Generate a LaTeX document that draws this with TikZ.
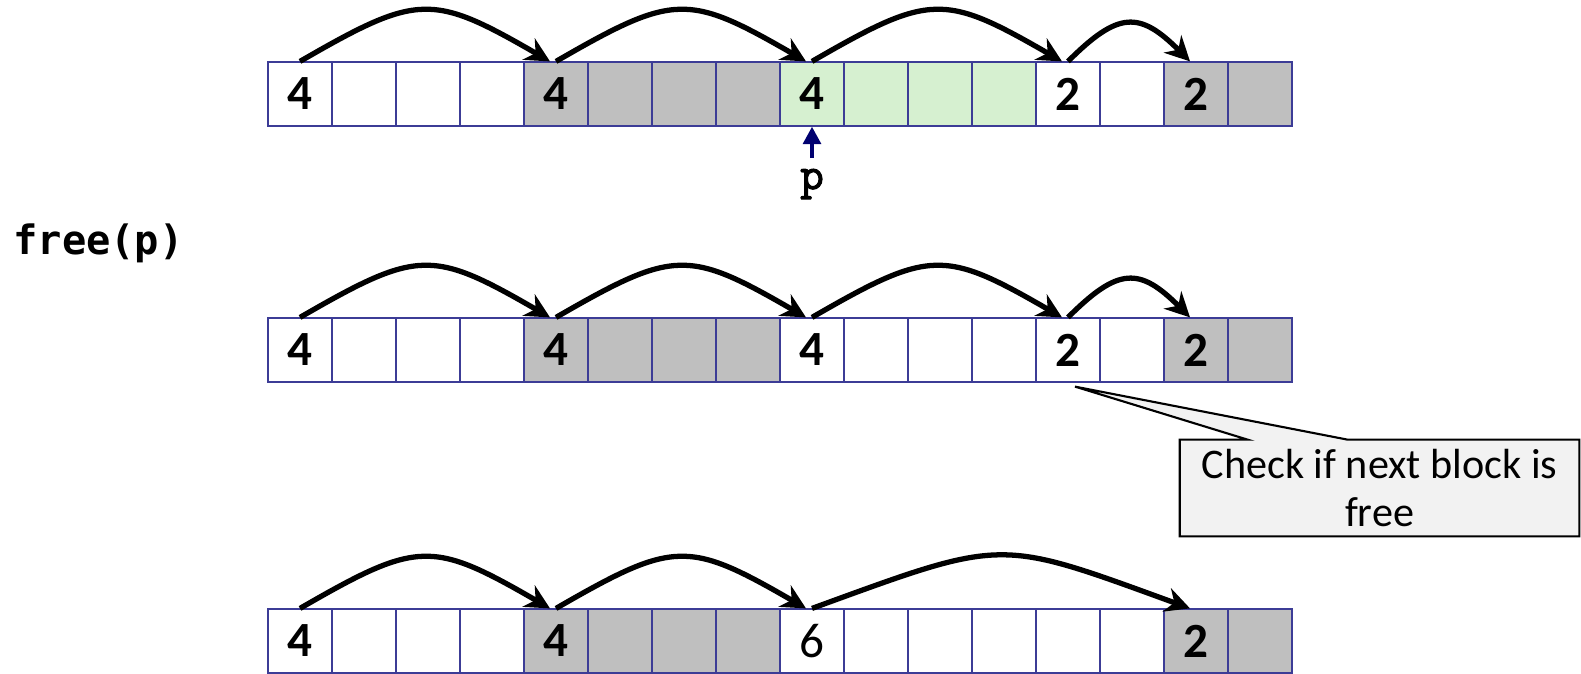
\documentclass[tikz,border=0pt]{standalone}
\usepackage{fontspec}
\setmainfont{Carlito}
\newfontfamily\callfont{DejaVu Sans Mono}
\newfontfamily\ptrfont{Latin Modern Mono}[FakeBold=2.5]
\usetikzlibrary{arrows.meta,calc,backgrounds}

\definecolor{wordline}{RGB}{60,60,150}
\definecolor{allocgray}{RGB}{191,191,191}
\definecolor{freedgreen}{RGB}{214,240,208}
\definecolor{notegray}{RGB}{242,242,242}
\definecolor{ptrnavy}{RGB}{0,0,112}

\tikzset{
	word/.style={draw=wordline, line width=0.7pt, minimum width=1.28cm, minimum height=1.28cm, inner sep=0pt, font=\fontsize{28}{28}\selectfont\bfseries},
	hop/.style={line width=3pt, -{Stealth[length=14pt,width=14pt]}},
	ptr/.style={ptrnavy, line width=2.6pt, -{Triangle[length=10pt,width=10pt]}},
	notebox/.style={draw=black, line width=1.2pt, fill=notegray},
}

\begin{document}
\begin{tikzpicture}[x=0.02cm, y=0.02cm]
	\useasboundingbox (0,0) rectangle (1581,-673);

	% heap before the call, block at p still allocated
	\foreach \i/\tone/\val in {0/white/4, 1/white/, 2/white/, 3/white/, 4/allocgray/4, 5/allocgray/, 6/allocgray/, 7/allocgray/,
			8/freedgreen/4, 9/freedgreen/, 10/freedgreen/, 11/freedgreen/, 12/white/2, 13/white/, 14/allocgray/2, 15/allocgray/}
		\node[word, fill=\tone] (a\i) at (300+64*\i,-94) {\val};

	\foreach \s/\t in {0/4, 4/8, 8/12}
		\draw[hop] (a\s.north) to[out=30, in=150, looseness=1.4] ($(a\t.north)+(-6,0)$);
	\draw[hop] (a12.north) to[out=45, in=135, looseness=1.5] ($(a14.north)+(-6,0)$);

	\node[font=\ptrfont\fontsize{26}{26}\selectfont, inner sep=0pt, inner ysep=6pt, anchor=base] (p) at (812,-189) {p};
	\draw[ptr] (p.north) -- (a8.south);

	\node[font=\callfont\bfseries\fontsize{23}{23}\selectfont, inner sep=0pt, anchor=base west] (call) at (13,-254) {free(p)};

	% after free(p), the block is white again
	\foreach \i/\tone/\val in {0/white/4, 1/white/, 2/white/, 3/white/, 4/allocgray/4, 5/allocgray/, 6/allocgray/, 7/allocgray/,
			8/white/4, 9/white/, 10/white/, 11/white/, 12/white/2, 13/white/, 14/allocgray/2, 15/allocgray/}
		\node[word, fill=\tone] (b\i) at (300+64*\i,-350) {\val};

	\foreach \s/\t in {0/4, 4/8, 8/12}
		\draw[hop] (b\s.north) to[out=30, in=150, looseness=1.4] ($(b\t.north)+(-6,0)$);
	\draw[hop] (b12.north) to[out=45, in=135, looseness=1.5] ($(b14.north)+(-6,0)$);

	% callout pointing below the next header
	\node[align=center, font=\fontsize{24}{27}\selectfont, minimum width=7.98cm, minimum height=1.92cm, inner sep=0pt] (note) at (1379.5,-488) {Check if next block is\\free};
	\coordinate (tip) at ($(b12.south)+(7,-4)$);
	\begin{scope}[on background layer]
		\draw[notebox] (note.north west) -- ($(note.north west)+(68,0)$) -- (tip) -- ($(note.north west)+(168,0)$) -- (note.north east) |- (note.south west) -- cycle;
	\end{scope}

	% coalesced: one free block of 6 words
	\foreach \i/\tone/\val in {0/white/4, 1/white/, 2/white/, 3/white/, 4/allocgray/4, 5/allocgray/, 6/allocgray/, 7/allocgray/,
			8/white/\mdseries 6, 9/white/, 10/white/, 11/white/, 12/white/, 13/white/, 14/allocgray/2, 15/allocgray/}
		\node[word, fill=\tone] (c\i) at (300+64*\i,-641) {\val};

	\foreach \s/\t in {0/4, 4/8}
		\draw[hop] (c\s.north) to[out=30, in=150, looseness=1.4] ($(c\t.north)+(-6,0)$);
	\draw[hop] (c8.north) to[out=20, in=160, looseness=1.4] ($(c14.north)+(-6,0)$);
\end{tikzpicture}
\end{document}
